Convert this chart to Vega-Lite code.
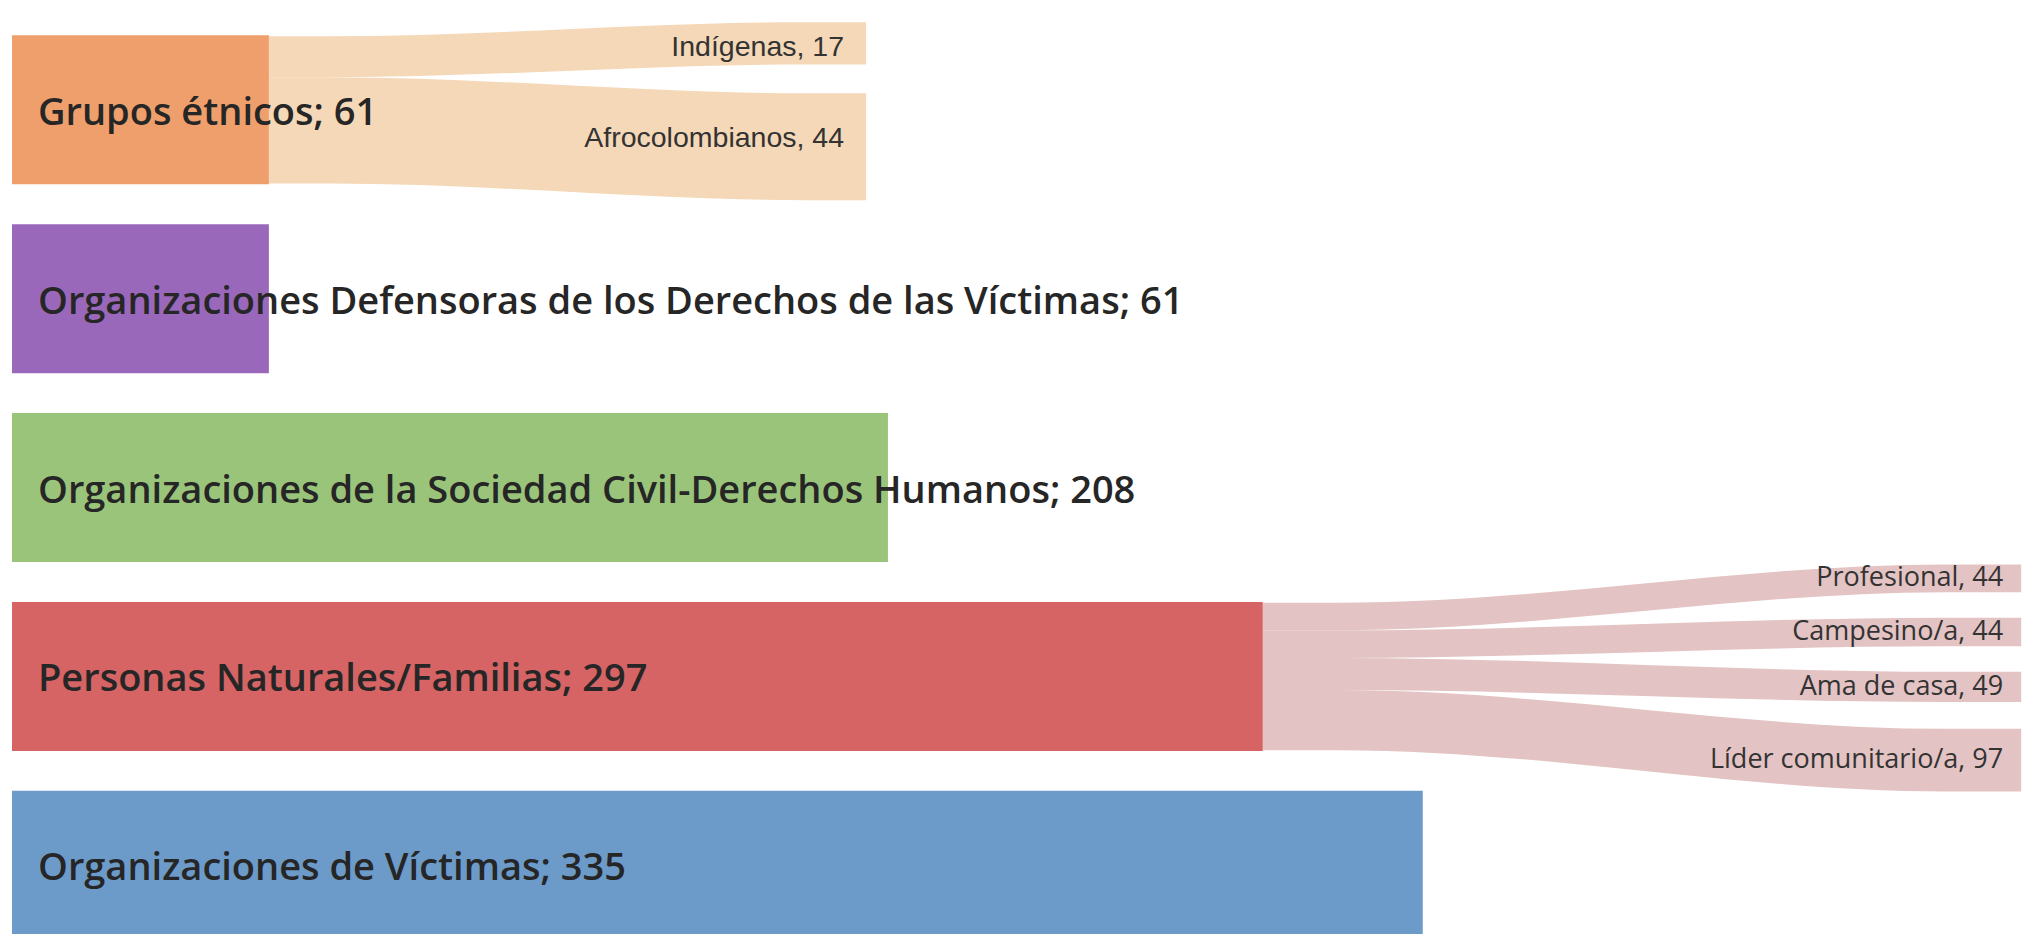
{
  "$schema": "https://vega.github.io/schema/vega-lite/v6.json",
  "width": 2029,
  "height": 934,
  "autosize": "none",
  "padding": {"left": 12, "top": 0, "right": 0, "bottom": 0},
  "background": "white",
  "config": {"view": {"stroke": null}},
  "datasets": {
    "grupos": [
      {"grupo": "Grupos étnicos", "n": 61, "fila": 0},
      {"grupo": "Organizaciones Defensoras de los Derechos de las Víctimas", "n": 61, "fila": 1},
      {"grupo": "Organizaciones de la Sociedad Civil-Derechos Humanos", "n": 208, "fila": 2},
      {"grupo": "Personas Naturales/Familias", "n": 297, "fila": 3},
      {"grupo": "Organizaciones de Víctimas", "n": 335, "fila": 4}
    ],
    "cintas": [
      {"origen": "Grupos étnicos", "destino": "Indígenas", "x": 61, "sup": -0.3903, "inf": -0.1729},
      {"origen": "Grupos étnicos", "destino": "Indígenas", "x": 75.2, "sup": -0.3903, "inf": -0.1729},
      {"origen": "Grupos étnicos", "destino": "Indígenas", "x": 188.6, "sup": -0.4646, "inf": -0.2409},
      {"origen": "Grupos étnicos", "destino": "Indígenas", "x": 202.8, "sup": -0.4646, "inf": -0.2409},
      {"origen": "Grupos étnicos", "destino": "Afrocolombianos", "x": 61, "sup": -0.1729, "inf": 0.3903},
      {"origen": "Grupos étnicos", "destino": "Afrocolombianos", "x": 75.2, "sup": -0.1729, "inf": 0.3903},
      {"origen": "Grupos étnicos", "destino": "Afrocolombianos", "x": 188.6, "sup": -0.0875, "inf": 0.4783},
      {"origen": "Grupos étnicos", "destino": "Afrocolombianos", "x": 202.8, "sup": -0.0875, "inf": 0.4783},
      {"origen": "Personas Naturales/Familias", "destino": "Profesional", "x": 297, "sup": 2.6097, "inf": 2.7554},
      {"origen": "Personas Naturales/Familias", "destino": "Profesional", "x": 315, "sup": 2.6097, "inf": 2.7554},
      {"origen": "Personas Naturales/Familias", "destino": "Profesional", "x": 459.1, "sup": 2.4070, "inf": 2.5537},
      {"origen": "Personas Naturales/Familias", "destino": "Profesional", "x": 477.1, "sup": 2.4070, "inf": 2.5537},
      {"origen": "Personas Naturales/Familias", "destino": "Campesino/a", "x": 297, "sup": 2.7554, "inf": 2.9020},
      {"origen": "Personas Naturales/Familias", "destino": "Campesino/a", "x": 315, "sup": 2.7554, "inf": 2.9020},
      {"origen": "Personas Naturales/Familias", "destino": "Campesino/a", "x": 459.1, "sup": 2.6888, "inf": 2.8408},
      {"origen": "Personas Naturales/Familias", "destino": "Campesino/a", "x": 477.1, "sup": 2.6888, "inf": 2.8408},
      {"origen": "Personas Naturales/Familias", "destino": "Ama de casa", "x": 297, "sup": 2.9020, "inf": 3.0723},
      {"origen": "Personas Naturales/Familias", "destino": "Ama de casa", "x": 315, "sup": 2.9020, "inf": 3.0723},
      {"origen": "Personas Naturales/Familias", "destino": "Ama de casa", "x": 459.1, "sup": 2.9754, "inf": 3.1351},
      {"origen": "Personas Naturales/Familias", "destino": "Ama de casa", "x": 477.1, "sup": 2.9754, "inf": 3.1351},
      {"origen": "Personas Naturales/Familias", "destino": "Líder comunitario/a", "x": 297, "sup": 3.0723, "inf": 3.3903},
      {"origen": "Personas Naturales/Familias", "destino": "Líder comunitario/a", "x": 315, "sup": 3.0723, "inf": 3.3903},
      {"origen": "Personas Naturales/Familias", "destino": "Líder comunitario/a", "x": 459.1, "sup": 3.2776, "inf": 3.6092},
      {"origen": "Personas Naturales/Familias", "destino": "Líder comunitario/a", "x": 477.1, "sup": 3.2776, "inf": 3.6092}
    ],
    "destinos": [
      {"origen": "Grupos étnicos", "destino": "Indígenas", "n": 17, "fin": 202.8, "centro": -0.3332},
      {"origen": "Grupos étnicos", "destino": "Afrocolombianos", "n": 44, "fin": 202.8, "centro": 0.1501},
      {"origen": "Personas Naturales/Familias", "destino": "Profesional", "n": 44, "fin": 477.1, "centro": 2.4804},
      {"origen": "Personas Naturales/Familias", "destino": "Campesino/a", "n": 44, "fin": 477.1, "centro": 2.7648},
      {"origen": "Personas Naturales/Familias", "destino": "Ama de casa", "n": 49, "fin": 477.1, "centro": 3.0553},
      {"origen": "Personas Naturales/Familias", "destino": "Líder comunitario/a", "n": 97, "fin": 477.1, "centro": 3.4434}
    ]
  },
  "layer": [
    {
      "data": {"name": "cintas"},
      "mark": {"type": "area", "interpolate": "monotone"},
      "encoding": {
        "x": {"field": "x", "type": "quantitative", "scale": {"domain": [0, 481.8], "nice": false, "zero": false}, "axis": null},
        "y": {"field": "sup", "type": "quantitative", "scale": {"domain": [-0.5553, 4.3374], "nice": false, "zero": false, "reverse": true}, "axis": null},
        "y2": {"field": "inf"},
        "detail": {"field": "destino"},
        "color": {"field": "origen", "type": "nominal", "legend": null,
          "scale": {"domain": ["Grupos étnicos", "Personas Naturales/Familias"], "range": ["#F5D8B7", "#E3C3C3"]}}
      }
    },
    {
      "data": {"name": "grupos"},
      "mark": {"type": "bar", "orient": "horizontal", "size": 149, "clip": true},
      "encoding": {
        "x": {"field": "n", "type": "quantitative", "stack": null},
        "y": {"field": "fila", "type": "quantitative"},
        "fill": {"field": "grupo", "type": "nominal", "legend": null,
          "scale": {"domain": ["Grupos étnicos", "Organizaciones Defensoras de los Derechos de las Víctimas", "Organizaciones de la Sociedad Civil-Derechos Humanos", "Personas Naturales/Familias", "Organizaciones de Víctimas"],
                    "range": ["#EF9F6B", "#9A68BA", "#9BC47B", "#D66464", "#6C9BCA"]}}
      }
    },
    {
      "data": {"name": "grupos"},
      "transform": [{"calculate": "datum.grupo + '; ' + datum.n", "as": "etiqueta"}],
      "mark": {"type": "text", "align": "left", "baseline": "middle", "dx": 26, "dy": 4, "font": "Open Sans", "fontWeight": 600, "fontSize": 38, "color": "#262626"},
      "encoding": {
        "x": {"datum": 0, "type": "quantitative"},
        "y": {"field": "fila", "type": "quantitative"},
        "text": {"field": "etiqueta"}
      }
    },
    {
      "data": {"name": "destinos"},
      "transform": [
        {"calculate": "datum.destino + ', ' + datum.n", "as": "etiqueta"},
        {"filter": "datum.origen == 'Grupos étnicos'"}
      ],
      "mark": {"type": "text", "align": "right", "baseline": "middle", "dx": -22, "font": "Liberation Sans", "fontSize": 28.5, "color": "#333333"},
      "encoding": {
        "x": {"field": "fin", "type": "quantitative"},
        "y": {"field": "centro", "type": "quantitative"},
        "text": {"field": "etiqueta"}
      }
    },
    {
      "data": {"name": "destinos"},
      "transform": [
        {"calculate": "datum.destino + ', ' + datum.n", "as": "etiqueta"},
        {"filter": "datum.origen != 'Grupos étnicos'"}
      ],
      "mark": {"type": "text", "align": "right", "baseline": "middle", "dx": -18, "font": "Open Sans", "fontSize": 27, "color": "#333333"},
      "encoding": {
        "x": {"field": "fin", "type": "quantitative"},
        "y": {"field": "centro", "type": "quantitative"},
        "text": {"field": "etiqueta"}
      }
    }
  ]
}
